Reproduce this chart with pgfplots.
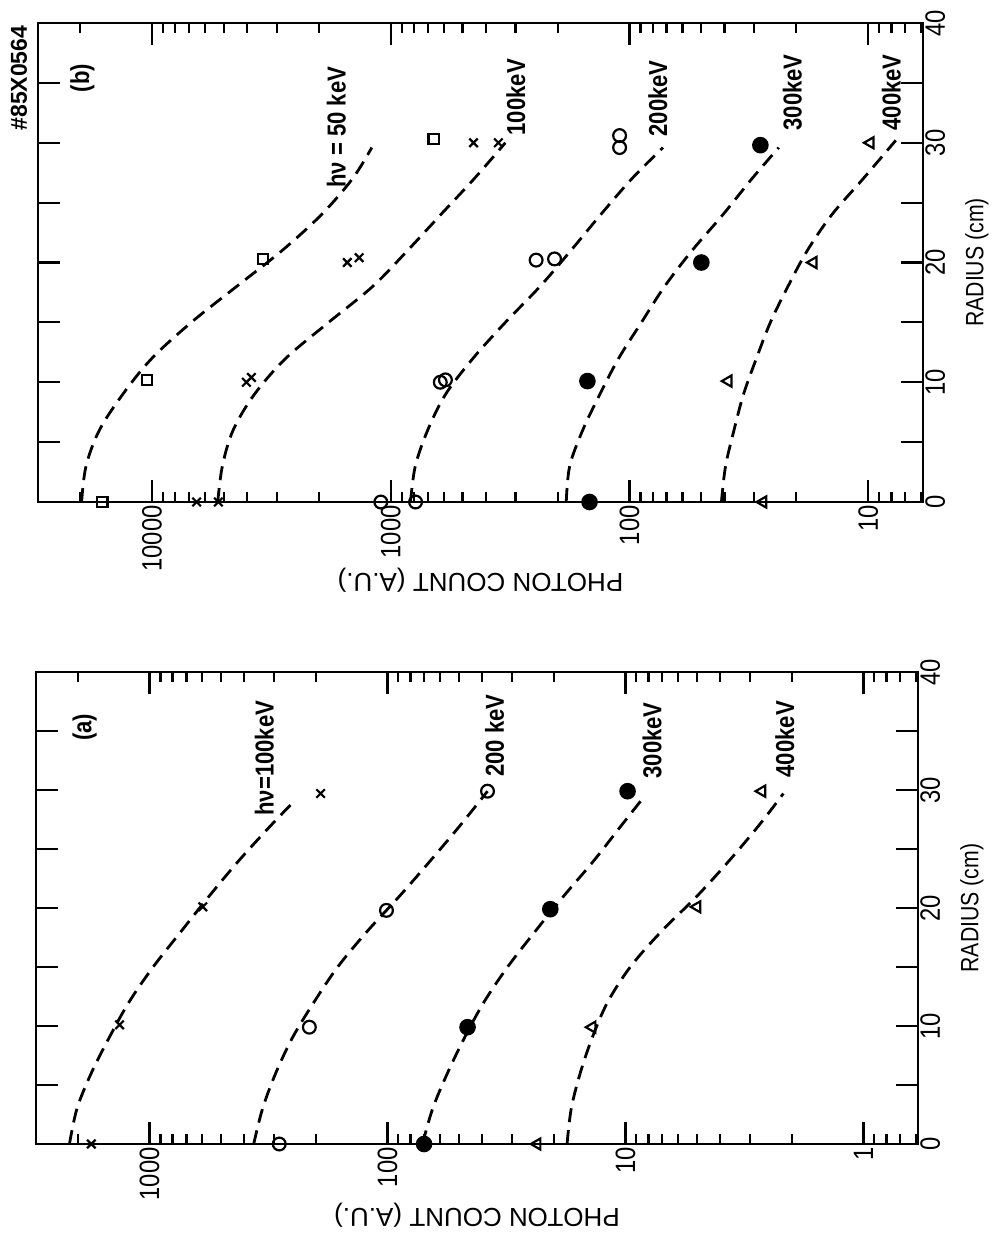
\documentclass[border=0pt]{standalone}
\usepackage{fontspec}
\setmainfont{Liberation Sans}[FakeStretch=0.85]
\newfontfamily\labelfont{Liberation Sans}
\usepackage{pgfplots}
\pgfplotsset{compat=1.18}
\pgfplotsset{
  mypanel/.style={
    scale only axis,
    ymin=0, ymax=40,
    anchor=south west,
    clip=false,
    axis line style={line width=1.3pt},
    tick style={line width=1.1pt, black},
    major tick length=11pt, minor tick length=5pt,
    ytick={0,5,...,40}, yticklabels={0,,10,,20,,30,,40},
    yticklabel pos=right,
    yticklabel style={rotate=90, anchor=north, inner sep=1pt, font=\fontsize{14}{14}\selectfont},
    xticklabel style={rotate=90, anchor=east, inner sep=1.5pt, font=\fontsize{14}{14}\selectfont},
  },
}
\tikzset{
  mycurve/.style={black, line width=1.4pt, dash pattern=on 7pt off 4pt, smooth, tension=0.55},
  mypts/.style={black, line width=1.1pt},
  myclab/.style={rotate=90, font=\bfseries\fontsize{13}{13}\selectfont, inner sep=0pt},
}
\begin{document}
\begin{tikzpicture}
\path[use as bounding box] (0,0) rectangle (497pt,-622pt);
% ---------------- panel (b) ----------------
\begin{axis}[xmode=log, x dir=reverse, mypanel, /pgf/number format/assume math mode=true,
  name=b, at={(19pt,-251pt)}, width=442.5pt, height=239.5pt,
  xmin=5.9, xmax=30000,
  xtick={10,100,1000,10000}, xticklabels={10,100,1000,10000},
  minor xtick={6,7,8,9,20,30,40,50,60,70,80,90,200,300,400,500,600,700,800,900,2000,3000,4000,5000,6000,7000,8000,9000,20000}]
% 50 keV
\addplot[mycurve, no markers] coordinates {(19700,0) (18880,3) (16600,6) (13240,9) (10000,12) (6840,15) (4420,18) (2850,21) (1950,24) (1445,27) (1200,29.6)};
% 100 keV
\addplot[mycurve, no markers] coordinates {(5300,0) (5070,3) (4570,6) (3720,9) (2750,12) (1820,15) (1190,18) (850,21) (617,24) (447,27) (331,30)};
% 200 keV
\addplot[mycurve, no markers] coordinates {(826,0) (789,3) (700,6) (589,9) (452,12) (331,15) (237,18) (176,21) (132,24) (97.7,27) (72.4,29.6)};
% 300 keV
\addplot[mycurve, no markers] coordinates {(184,0) (178,3) (157,6) (133,9) (111,12) (89.1,15) (71.3,18) (54.7,21) (40.6,24) (30.7,27) (23.7,29.6)};
% 400 keV
\addplot[mycurve, no markers] coordinates {(41.2,0) (39.6,3) (36.5,6) (33.3,9) (29.4,12) (25.7,15) (21.7,18) (18.0,21) (14.2,24) (10.5,27) (7.67,30.2)};
\addplot[mypts, only marks, mark=square, mark size=2.6pt] coordinates {(16150,0) (10480,10.2) (3430,20.3) (660,30.3)};
\addplot[mypts, only marks, mark=x, mark size=3pt] coordinates {(6495,0) (5270,0) (4020,10) (3830,10.4) (1520,20) (1355,20.4) (450,30) (354,30)};
\addplot[mypts, only marks, mark=o, mark size=3.2pt] coordinates {(1100,0) (787,0) (620,10) (590,10.2) (246,20.2) (206,20.3) (110,30.6) (110,29.6)};
\addplot[mypts, only marks, mark=*, mark size=3.6pt] coordinates {(147,0) (150,10.1) (50,20) (28.3,29.8)};
\addplot[mypts, only marks, mark=triangle, mark size=3.2pt, mark options={rotate=90}] coordinates {(27.6,0) (38.6,10.1) (17,20) (9.8,30)};
\node[myclab] at (axis cs:1690,31.3) {hν = 50 keV};
\node[myclab] at (axis cs:299,33.8) {100keV};
\node[myclab] at (axis cs:76,33.7) {200keV};
\node[myclab] at (axis cs:20.8,34.2) {300keV};
\node[myclab] at (axis cs:8.0,34.2) {400keV};
\node[myclab] at (axis cs:19560,35.4) {(b)};
\node[rotate=90, font=\labelfont\bfseries\fontsize{11.5}{11.5}\selectfont, inner sep=0pt] at (axis cs:36000,35.4) {\#85X0564};
\end{axis}
\node[rotate=180, font=\labelfont\fontsize{13}{13}\selectfont] at ([yshift=-39pt]b.south) {PHOTON COUNT (A.U.)};
\node[rotate=90, font=\fontsize{12.5}{12.5}\selectfont] at ([xshift=27pt]b.east) {RADIUS (cm)};
% ---------------- panel (a) ----------------
\begin{axis}[xmode=log, x dir=reverse, mypanel, /pgf/number format/assume math mode=true,
  name=a, at={(18pt,-572pt)}, width=441pt, height=236pt,
  xmin=0.59, xmax=3000,
  xtick={1,10,100,1000}, xticklabels={1,10,100,1000},
  minor xtick={0.6,0.7,0.8,0.9,2,3,4,5,6,7,8,9,20,30,40,50,60,70,80,90,200,300,400,500,600,700,800,900,2000}]
% 100 keV
\addplot[mycurve, no markers] coordinates {(2170,0) (2018,3) (1758,6) (1479,9) (1222,12) (966,15) (738,18) (562,21) (422,24) (309,27) (248,29)};
% 200 keV
\addplot[mycurve, no markers] coordinates {(365,0) (335,3) (295,6) (251,9) (204,12) (162,15) (122,18) (89.1,21) (66.1,24) (49.5,27) (38,29.9)};
% 300 keV
\addplot[mycurve, no markers] coordinates {(71.3,0) (64.6,3) (56,6) (47.5,9) (39.4,12) (31.3,15) (24,18) (18.2,21) (13.6,24) (10.4,27) (8.3,29.5)};
% 400 keV
\addplot[mycurve, no markers] coordinates {(17.6,0) (16.9,3) (15.5,6) (13.8,9) (11.9,12) (9.55,15) (7.08,18) (5.01,21) (3.67,24) (2.75,27) (2.17,29.7)};
\addplot[mypts, only marks, mark=x, mark size=3pt] coordinates {(1757,0) (1336,10.1) (597,20.1) (191,29.7)};
\addplot[mypts, only marks, mark=o, mark size=3.2pt] coordinates {(285,0) (213,9.9) (101,19.8) (38,29.9)};
\addplot[mypts, only marks, mark=*, mark size=3.6pt] coordinates {(70.2,0) (46.1,9.9) (20.7,19.9) (9.8,29.9)};
\addplot[mypts, only marks, mark=triangle, mark size=3.2pt, mark options={rotate=90}] coordinates {(23.5,0) (13.8,9.9) (5.0,20.1) (2.67,29.9)};
\node[myclab] at (axis cs:329,32.7) {hν=100keV};
\node[myclab] at (axis cs:35.5,34.6) {200 keV};
\node[myclab] at (axis cs:7.73,34.2) {300keV};
\node[myclab] at (axis cs:2.14,34.3) {400keV};
\node[myclab] at (axis cs:1875,35.3) {(a)};
\end{axis}
\node[rotate=180, font=\labelfont\fontsize{13}{13}\selectfont] at ([yshift=-35.5pt]a.south) {PHOTON COUNT (A.U.)};
\node[rotate=90, font=\fontsize{12.5}{12.5}\selectfont] at ([xshift=27pt]a.east) {RADIUS (cm)};
\end{tikzpicture}
\end{document}
